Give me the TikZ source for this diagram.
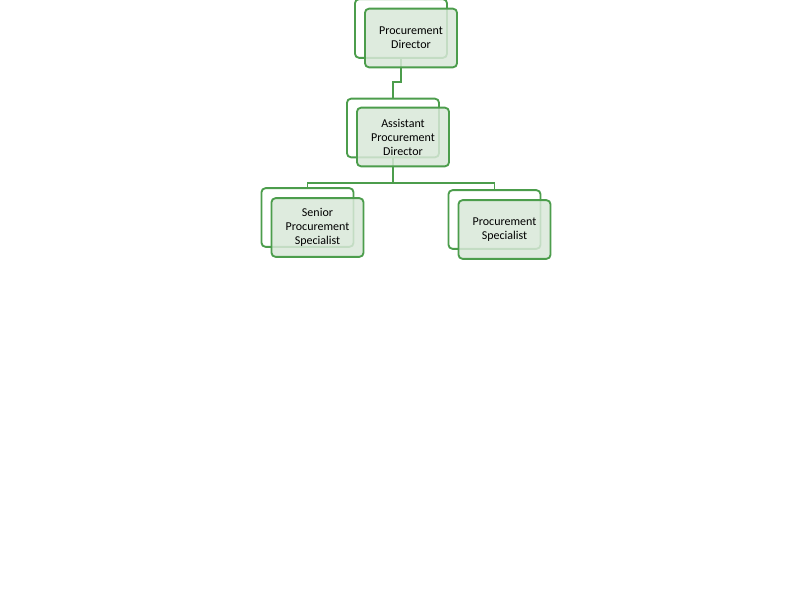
\documentclass[tikz,border=0pt]{standalone}
\usepackage{fontspec}
\setmainfont{Carlito}
\begin{document}
\begin{tikzpicture}[x=0.75pt,y=-0.75pt,
  backbox/.style={draw=green!45!black!70!white, line width=1.4pt, fill=white, rounded corners=3pt, minimum width=69pt, minimum height=44pt, inner sep=0pt},
  frontbox/.style={draw=green!45!black!70!white, line width=1.4pt, fill=green!40!black!15!white, fill opacity=0.85, text opacity=1, rounded corners=3pt, minimum width=69pt, minimum height=44pt, align=center, font=\fontsize{9}{10.5}\selectfont, inner sep=0pt},
  conn/.style={draw=green!45!black!70!white, line width=1.4pt}]
\useasboundingbox (0,0) rectangle (800,600);
\colorlet{gl}{green!45!black!70!white}
% back boxes
\node[backbox] (b1) at (401,28.5) {};
\node[backbox] (b2) at (393,128) {};
\node[backbox] (b3) at (307.5,217.5) {};
\node[backbox] (b4) at (494.5,219.5) {};
% connectors
\draw[conn] (b1.south) -- ++(0,23) -| (b2.north);
\draw[conn] (b2.south) -- ++(0,25) -| (b3.north);
\draw[conn] (b2.south) -- ++(0,25) -| (b4.north);
% front boxes
\node[frontbox] (f1) at (411,38) {Procurement\\Director};
\node[frontbox] (f2) at (403,137) {Assistant\\Procurement\\Director};
\node[frontbox] (f3) at (317.5,227.5) {Senior\\Procurement\\Specialist};
\node[frontbox] (f4) at (504.5,229.5) {Procurement\\Specialist};
\end{tikzpicture}
\end{document}
